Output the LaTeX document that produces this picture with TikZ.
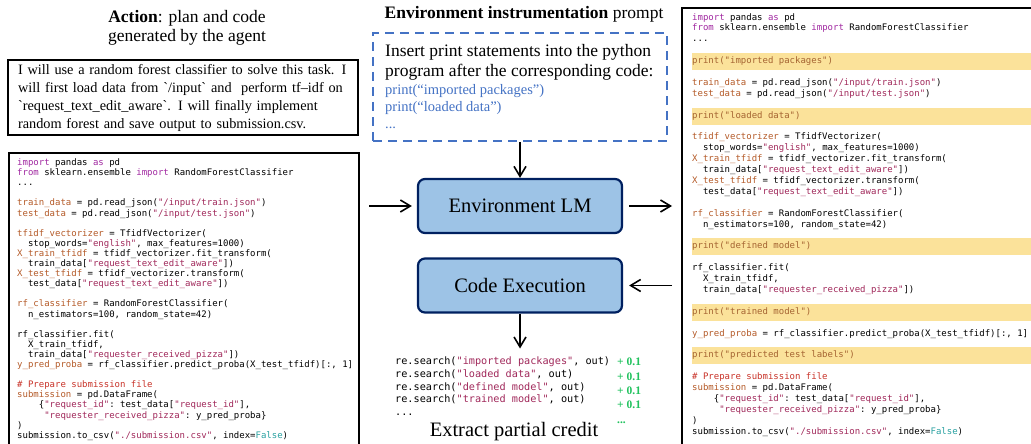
\documentclass[tikz,border=0pt]{standalone}
\usepackage{fontspec}
\setmainfont{Liberation Serif}
\setmonofont{DejaVu Sans Mono}
\usetikzlibrary{arrows.meta,positioning,calc}

\definecolor{kwpurple}{RGB}{160,40,160}
\definecolor{varbrown}{RGB}{180,90,40}
\definecolor{strred}{RGB}{160,40,90}
\definecolor{comred}{RGB}{200,50,40}
\definecolor{boolteal}{RGB}{40,160,160}
\definecolor{hlfill}{RGB}{251,226,154}
\definecolor{hltext}{RGB}{165,100,50}
\definecolor{lmfill}{RGB}{157,195,230}
\definecolor{lmdraw}{RGB}{0,32,96}
\definecolor{promptblue}{RGB}{68,114,196}
\definecolor{creditgreen}{RGB}{33,194,94}

% syntax colours
\newcommand\ckw[1]{\textcolor{kwpurple}{#1}}
\newcommand\cvar[1]{\textcolor{varbrown}{#1}}
\newcommand\cstr[1]{\textcolor{strred}{#1}}
\newcommand\ccom[1]{\textcolor{comred}{#1}}
\newcommand\cbool[1]{\textcolor{boolteal}{#1}}
\newcommand\cprint[1]{\textcolor{hltext}{print("#1")}}
\newcommand\indt[1]{\leavevmode\hbox to #1\fontcharwd\font`\x{}}
\newcommand\blank{\mbox{}}

% code pieces shared by both listings
\newcommand\codehead{\ckw{import} pandas \ckw{as} pd\\
\ckw{from} sklearn.ensemble \ckw{import} RandomForestClassifier\\
...}
\newcommand\codeload{\cvar{train\_data} = pd.read\_json(\cstr{"/input/train.json"})\\
\cvar{test\_data} = pd.read\_json(\cstr{"/input/test.json"})}
\newcommand\codetfidf{\cvar{tfidf\_vectorizer} = TfidfVectorizer(\\
\indt{2}stop\_words=\cstr{"english"}, max\_features=1000)\\
\cvar{X\_train\_tfidf} = tfidf\_vectorizer.fit\_transform(\\
\indt{2}train\_data[\cstr{"request\_text\_edit\_aware"}])\\
\cvar{X\_test\_tfidf} = tfidf\_vectorizer.transform(\\
\indt{2}test\_data[\cstr{"request\_text\_edit\_aware"}])}
\newcommand\codemodel{\cvar{rf\_classifier} = RandomForestClassifier(\\
\indt{2}n\_estimators=100, random\_state=42)}
\newcommand\codefit{rf\_classifier.fit(\\
\indt{2}X\_train\_tfidf,\\
\indt{2}train\_data[\cstr{"requester\_received\_pizza"}])}
\newcommand\codepred{\cvar{y\_pred\_proba} = rf\_classifier.predict\_proba(X\_test\_tfidf)[:, 1]}
\newcommand\codesubmit{\ccom{\# Prepare submission file}\\
\cvar{submission} = pd.DataFrame(\\
\indt{4}\{\cstr{"request\_id"}: test\_data[\cstr{"request\_id"}],\\
\indt{5}\cstr{"requester\_received\_pizza"}: y\_pred\_proba\}\\
)\\
submission.to\_csv(\cstr{"./submission.csv"}, index=\cbool{False})}

\tikzset{
  ttl/.style     ={font=\fontsize{17.5}{19}\selectfont,align=center,inner sep=0pt},
  planbox/.style ={draw,line width=1.5pt,minimum width=350pt,minimum height=75pt,
                   text width=330pt,align=left,inner xsep=10pt,inner ysep=2pt,
                   font=\fontsize{14.3}{18}\selectfont},
  codebox/.style ={draw,line width=2pt,inner sep=0pt,anchor=north west},
  code/.style    ={font=\ttfamily\fontsize{9}{10.1}\selectfont,align=left,
                   inner sep=0pt,anchor=north west},
  promptbox/.style={draw=promptblue,line width=1.8pt,dash pattern=on 9pt off 6pt,
                   minimum width=294pt,minimum height=108pt},
  lm/.style      ={draw=lmdraw,fill=lmfill,line width=2.2pt,rounded corners=7pt,
                   minimum width=204pt,minimum height=54pt,
                   font=\fontsize{20.5}{22}\selectfont},
  ar/.style      ={-{Straight Barb[length=10pt,width=12pt]},line width=1.6pt},
  hl/.style      ={fill=hlfill},
}

\begin{document}
\begin{tikzpicture}[x=1pt,y=-1pt]
  \useasboundingbox (0,0) rectangle (1031,444);

  % agent action
  \node[ttl] (actTitle) at (187,28) {\textbf{Action}: plan and code\\generated by the agent};
  \node[planbox] (plan) at (183,97.5) {I will use a random forest classifier to solve this task. I\\
    will first load data from \textasciigrave/input\textasciigrave\ and\ \ perform tf–idf on\\
    \textasciigrave request\_text\_edit\_aware\textasciigrave. I will finally implement\\
    random forest and save output to submission.csv.};
  \node[codebox,minimum width=350pt,minimum height=320pt] (codeL) at (8,152) {};
  \node[code] (codeLtxt) at (17,158.5) {\codehead\\ \blank\\ \codeload\\ \blank\\ \codetfidf\\
    \blank\\ \codemodel\\ \blank\\ \codefit\\ \codepred\\ \blank\\ \codesubmit};

  % instrumentation prompt
  \node[ttl] (promptTitle) at (524,14) {\textbf{Environment instrumentation} prompt};
  \node[promptbox] (prompt) at (520,87) {};
  \node[anchor=north west,align=left,inner sep=0pt,font=\fontsize{17.5}{20}\selectfont]
    (promptTxt) at (385,44) {Insert print statements into the python\\program after the corresponding code:};
  \node[anchor=north west,align=left,inner sep=0pt,text=promptblue,font=\fontsize{14.5}{17}\selectfont]
    (promptPy) at (385,84.5) {print(“imported packages”)\\print(“loaded data”)\\...};

  \node[lm] (envlm) at (520,206) {Environment LM};
  \node[lm] (exec) at (520,285.5) {Code Execution};

  % partial credit
  \node[code,font=\ttfamily\fontsize{10.2}{12.8}\selectfont] (credit) at (395,356.5) {re.search(\cstr{"imported packages"}, out)\\
    re.search(\cstr{"loaded data"}, out)\\ re.search(\cstr{"defined model"}, out)\\
    re.search(\cstr{"trained model"}, out)\\ ...};
  \node[anchor=north west,align=left,inner sep=0pt,text=creditgreen,font=\bfseries\fontsize{11.5}{14.3}\selectfont]
    (gain) at (617,358) {+ 0.1\\+ 0.1\\+ 0.1\\+ 0.1\\...};
  \node[font=\fontsize{20.5}{22}\selectfont] (creditTitle) at (514,432) {Extract partial credit};

  % instrumented program
  \node[codebox,minimum width=370pt,minimum height=460pt] (codeR) at (681,7) {};
  \foreach \n in {4,9,21,27,31}
    \fill[hl] (692,{18+10.9*\n-8.5}) rectangle (1031,{18+10.9*\n+8.5});
  \node[code,font=\ttfamily\fontsize{9}{10.9}\selectfont] (codeRtxt) at (692,13) {\codehead\\ \blank\\
    \cprint{imported packages}\\ \blank\\ \codeload\\ \blank\\ \cprint{loaded data}\\ \blank\\
    \codetfidf\\ \blank\\ \codemodel\\ \blank\\ \cprint{defined model}\\ \blank\\ \codefit\\ \blank\\
    \cprint{trained model}\\ \blank\\ \codepred\\ \blank\\ \cprint{predicted test labels}\\ \blank\\
    \codesubmit};

  % flow
  \draw[ar] (prompt) -- (envlm);
  \draw[ar,shorten <=9pt,shorten >=5pt] (envlm.west -| codeL.east) -- (envlm.west);
  \draw[ar,shorten <=6pt,shorten >=9pt] (envlm.east) -- (envlm.east -| codeR.west);
  \draw[ar,shorten <=9pt,shorten >=6pt] (exec.east -| codeR.west) -- (exec.east);
  \draw[ar,shorten >=8pt] (exec) -- (exec.south |- credit.north);
\end{tikzpicture}
\end{document}
